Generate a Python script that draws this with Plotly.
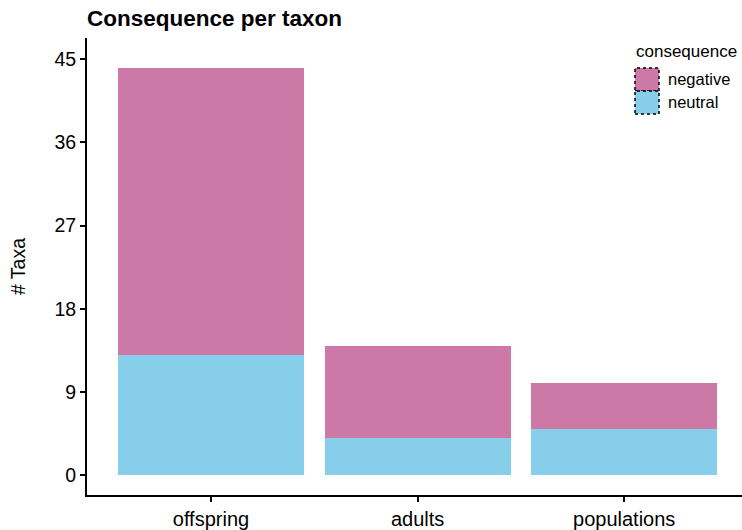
import plotly.graph_objects as go

categories = ["offspring", "adults", "populations"]
neutral = [13, 4, 5]
negative = [31, 10, 5]
y_ticks = [0, 9, 18, 27, 36, 45]

col_neg = "#CC79A7"
col_neu = "#87CEEB"

fig = go.Figure()
fig.add_trace(go.Bar(x=categories, y=neutral, name="neutral", marker=dict(color=col_neu, line=dict(width=0)), width=0.9))
fig.add_trace(go.Bar(x=categories, y=negative, name="negative", marker=dict(color=col_neg, line=dict(width=0)), width=0.9))

W, H = 742, 530
ML, MR, MT, MB = 87, 0, 38, 35
font = "Liberation Sans, Arial, sans-serif"
fig.update_layout(
    barmode="stack",
    width=W, height=H,
    margin=dict(l=ML, r=MR, t=MT, b=MB),
    plot_bgcolor="white", paper_bgcolor="white",
    showlegend=False,
    font=dict(family=font, size=19, color="black"),
    title=dict(text="<b>Consequence per taxon</b>", x=ML/W, xanchor="left", y=1-18/H, yanchor="middle",
               font=dict(size=22.5, family=font, color="black")),
)
fig.update_xaxes(range=[-0.6, 2.57], showline=True, linecolor="black", linewidth=2,
                 ticks="outside", ticklen=5, tickcolor="black", tickwidth=2,
                 showgrid=False, zeroline=False, tickfont=dict(size=20))
fig.update_yaxes(range=[-2.16, 47.3], tickvals=y_ticks, showline=True, linecolor="black", linewidth=2,
                 ticks="outside", ticklen=5, tickcolor="black", tickwidth=2,
                 showgrid=False, zeroline=False, tickfont=dict(size=19.5),
                 title=dict(text="# Taxa", font=dict(size=19.5), standoff=24))

# custom legend with dotted swatch borders (paper coords are relative to plot area)
def px(x): return (x - ML) / (W - ML - MR)
def py(y): return (H - MB - y) / (H - MT - MB)
fig.add_annotation(xref="paper", yref="paper", x=px(634), y=py(52), text="consequence", showarrow=False,
                   xanchor="left", yanchor="middle", font=dict(size=17, family=font, color="black"))
legend_items = [("negative", col_neg, 68, 91), ("neutral", col_neu, 91, 114)]
for name, col, y0, y1 in legend_items:
    fig.add_shape(type="rect", xref="paper", yref="paper", x0=px(635), x1=px(659), y0=py(y1), y1=py(y0),
                  fillcolor=col, line=dict(color="black", width=1.5, dash="dot"))
    fig.add_annotation(xref="paper", yref="paper", x=px(666), y=py((y0 + y1) / 2), text=name, showarrow=False,
                       xanchor="left", yanchor="middle", font=dict(size=16.5, family=font, color="black"))

fig.write_html("out.html", config={"displayModeBar": False}, post_script="document.body.style.margin='0px';")
